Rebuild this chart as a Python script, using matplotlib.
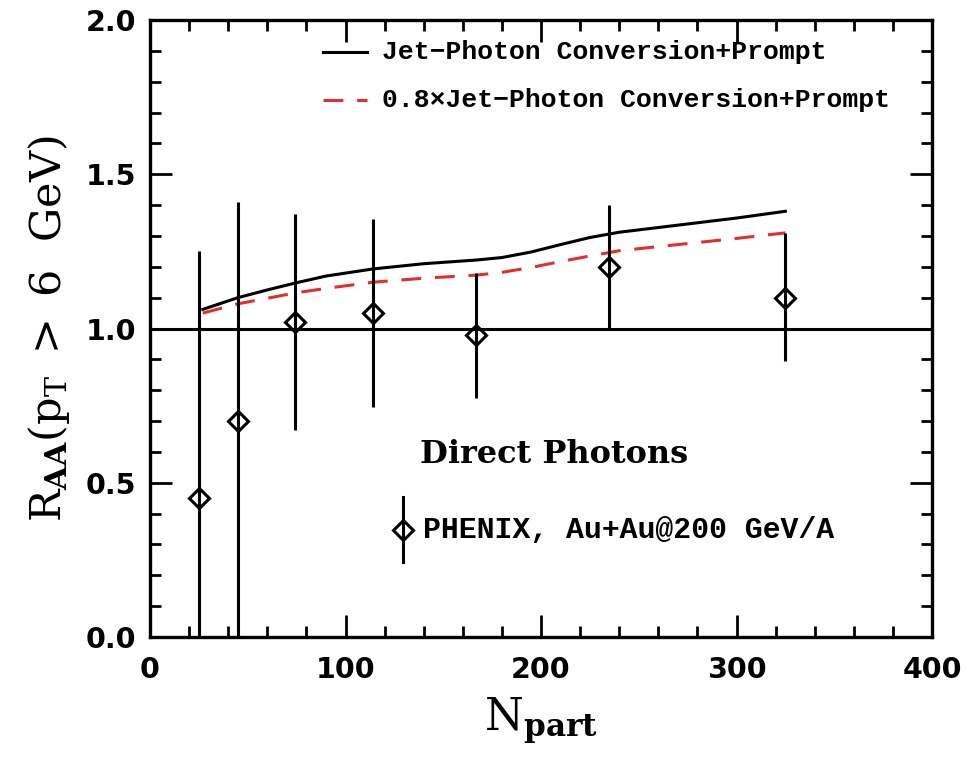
import matplotlib
matplotlib.use("Agg")
import matplotlib.pyplot as plt
from matplotlib.ticker import MultipleLocator

plt.rcParams['mathtext.fontset'] = 'custom'
plt.rcParams['mathtext.rm'] = 'DejaVu Serif'
plt.rcParams['mathtext.it'] = 'DejaVu Serif:italic'
plt.rcParams['mathtext.bf'] = 'DejaVu Serif:bold'

# ---- data ----
npart_data = [25, 45, 74, 114, 167, 235, 325]
raa_data = [0.45, 0.70, 1.02, 1.05, 0.98, 1.20, 1.10]
err_hi = [1.25, 1.41, 1.37, 1.355, 1.18, 1.40, 1.31]
err_lo = [-0.2, -0.2, 0.67, 0.745, 0.775, 1.00, 0.895]

npart_curve = [27, 45, 60, 74, 90, 114, 140, 167, 180, 195, 210, 225, 240, 270, 300, 325]
raa_full = [1.062, 1.10, 1.125, 1.147, 1.17, 1.193, 1.21, 1.222, 1.230, 1.248, 1.272, 1.295, 1.312, 1.335, 1.358, 1.38]
raa_scaled = [1.05, 1.08, 1.098, 1.115, 1.13, 1.15, 1.163, 1.173, 1.182, 1.198, 1.217, 1.235, 1.252, 1.272, 1.292, 1.31]

xticks = [0, 100, 200, 300, 400]
yticks = [0.0, 0.5, 1.0, 1.5, 2.0]

fig = plt.figure(figsize=(9.66, 7.58), dpi=100)
ax = fig.add_axes([150/966, 1-637/758, 782/966, 617/758])

red = '#e0302d'
lw = 2.2

ax.axhline(1.0, color='black', lw=lw)
ax.plot(npart_curve, raa_full, color='black', lw=lw)
ax.plot(npart_curve, raa_scaled, color=red, lw=lw, dashes=(6.5, 4.5))

yerr = [[r - l for r, l in zip(raa_data, err_lo)], [h - r for r, h in zip(raa_data, err_hi)]]
ax.errorbar(npart_data, raa_data, yerr=yerr, fmt='D', ms=10.5, mfc='none', mec='black',
            mew=2.2, color='black', elinewidth=2.2, capsize=0)

ax.set_xlim(0, 400)
ax.set_ylim(0, 2.0)
ax.set_xticks(xticks)
ax.set_yticks(yticks)
ax.set_xticklabels([str(v) for v in xticks])
ax.set_yticklabels([f"{v:.1f}" for v in yticks])
ax.xaxis.set_minor_locator(MultipleLocator(20))
ax.yaxis.set_minor_locator(MultipleLocator(0.1))
ax.tick_params(which='both', direction='in', top=True, right=True, width=2.0, colors='black')
ax.tick_params(which='major', length=16)
ax.tick_params(which='minor', length=8)
ax.tick_params(axis='x', which='major', pad=14)
ax.tick_params(axis='y', which='major', pad=10)
for lab in ax.get_xticklabels() + ax.get_yticklabels():
    lab.set_fontfamily('DejaVu Sans')
    lab.set_fontweight('bold')
    lab.set_fontsize(20.5)
for s in ax.spines.values():
    s.set_linewidth(2.4)

ax.set_xlabel(r'$\mathregular{N_{\mathbf{part}}}$', fontsize=32, family='DejaVu Serif', labelpad=8)
ax.set_ylabel(r'$\mathregular{R_{\mathbf{AA}}(p_T\ >\ 6\ \ GeV)}$', fontsize=31, family='DejaVu Serif', labelpad=10)

# legend (manual)
tr = ax.transAxes
ax.plot([0.221, 0.277], [0.948, 0.948], color='black', lw=lw, transform=tr, clip_on=False)
ax.plot([0.221, 0.277], [0.870, 0.870], color=red, lw=lw, dashes=(6.5, 4.5), transform=tr, clip_on=False)
lfont = dict(family='Liberation Mono', fontweight='bold', fontsize=19, va='center', ha='left', transform=tr)
ax.text(0.297, 0.948, 'Jet\u2212Photon Conversion+Prompt', **lfont)
ax.text(0.297, 0.870, '0.8\u00d7Jet\u2212Photon Conversion+Prompt', **lfont)

ax.text(0.345, 0.295, 'Direct Photons', family='DejaVu Serif', fontweight='bold', fontsize=23,
        va='center', ha='left', transform=tr)
ax.text(0.349, 0.173, 'PHENIX, Au+Au@200 GeV/A', family='Liberation Mono', fontweight='bold', fontsize=21.5,
        va='center', ha='left', transform=tr)
ax.plot([0.3235, 0.3235], [0.122, 0.227], color='black', lw=2.2, transform=tr)
ax.plot([0.3235], [0.173], marker='D', ms=10.5, mfc='none', mec='black', mew=2.2, transform=tr)

fig.savefig('out.png', dpi=100, facecolor='white')
